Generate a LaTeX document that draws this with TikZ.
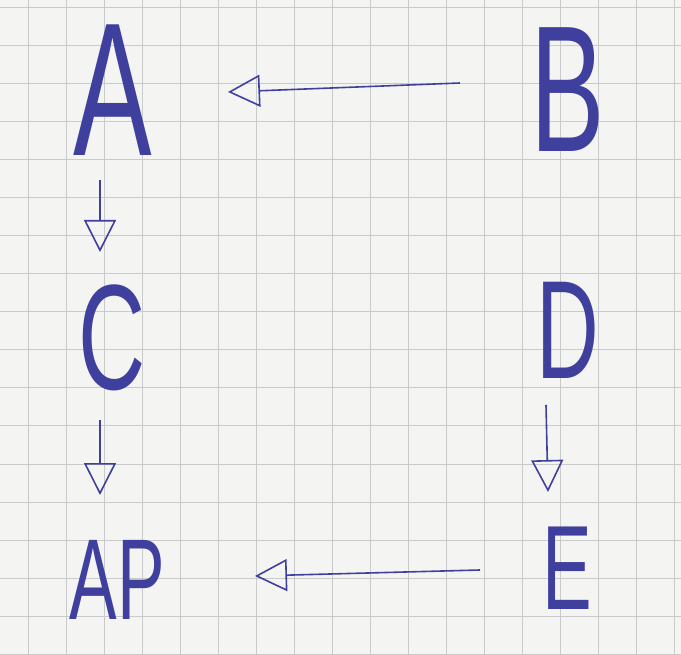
\documentclass[tikz,border=0pt]{standalone}
\usepackage{fontspec}
\setmainfont{Liberation Sans}
\usetikzlibrary{arrows.meta}
\definecolor{ink}{HTML}{3F3F9E}
\definecolor{paper}{HTML}{F4F4F2}
\definecolor{gridc}{HTML}{C9CACC}
\newcommand{\narrow}[1]{\scalebox{0.62}[1]{#1}}
\begin{document}
\begin{tikzpicture}[x=1pt,y=-1pt,
  letter/.style={text=ink,inner sep=0pt,font=\fontsize{#1}{#1}\selectfont},
  conn/.style={draw=ink,line width=1.6pt,-{Triangle[open,length=32pt,width=32pt,line width=1.6pt]}},
  gridline/.style={draw=gridc,line width=1pt}]
\useasboundingbox (0,0) rectangle (681,655);
\fill[paper] (0,0) rectangle (681,655);
\foreach \x in {28,66,104,142,180,218,256,294,332,370,408,446,484,522,560,598,636,674}
  \draw[gridline] (\x,0) -- (\x,655);
\foreach \y in {8,46,84,122,160,198,236,274,312,350,388,426,464,502,540,578,616,654}
  \draw[gridline] (0,\y) -- (681,\y);
\node[letter=190] (a) at (113,90) {\narrow{A}};
\node[letter=180] (b) at (568,90) {\narrow{B}};
\node[letter=150] (c) at (112,338) {\narrow{C}};
\node[letter=140] (d) at (568,330) {\narrow{D}};
\node[letter=120] (e) at (567,568) {\narrow{E}};
\node[letter=115] (ap) at (117,580) {\narrow{AP}};
\coordinate (bs) at (460,83);
\coordinate (bt) at (228,92);
\draw[conn] (bs) -- (bt);
\coordinate (as) at (100,180);
\coordinate (at) at (100,252);
\draw[conn] (as) -- (at);
\coordinate (cs) at (100,420);
\coordinate (ct) at (100,495);
\draw[conn] (cs) -- (ct);
\coordinate (ds) at (546,405);
\coordinate (dt) at (548,492);
\draw[conn] (ds) -- (dt);
\coordinate (es) at (480,570);
\coordinate (et) at (255,576);
\draw[conn] (es) -- (et);
\end{tikzpicture}
\end{document}
